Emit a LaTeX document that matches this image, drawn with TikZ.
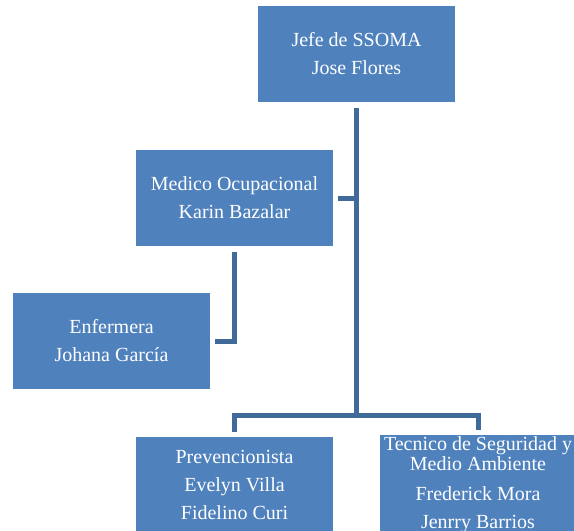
\documentclass[tikz,border=0pt]{standalone}
\usepackage{fontspec}
\setmainfont{Liberation Serif}
\definecolor{boxblue}{HTML}{4F81BD}
\definecolor{lineblue}{HTML}{3F6A9A}
\tikzset{
  cargo/.style={rectangle, fill=boxblue, text=white, minimum width=197pt, minimum height=96pt,
    inner sep=2pt, align=center, font=\fontsize{20}{28}\selectfont},
  conn/.style={draw=lineblue, line width=5pt, line join=miter}
}
\begin{document}
\begin{tikzpicture}[x=1pt, y=-1pt]
            \useasboundingbox (0,0) rectangle (574,531);
            % boxes
            \node[cargo] (jefe) at (356.5,54) {Jefe de SSOMA\\Jose Flores};
            \node[cargo] (medico) at (234.5,198) {Medico Ocupacional\\Karin Bazalar};
            \node[cargo] (enf) at (111.5,341) {Enfermera\\Johana García};
            \node[cargo] (prev) at (234.5,485) {Prevencionista\\Evelyn Villa\\Fidelino Curi};
            \node[cargo] (tec) at (478,485) {Tecnico de Seguridad y\\[-8pt]Medio Ambiente\\[2pt]Frederick Mora\\Jenrry Barrios};
            % connectors
            \coordinate (bus) at (356.5,415);
            \draw[conn] ([yshift=-6pt]jefe.south) -- (bus);
            \draw[conn] ([xshift=5pt]medico.east) -- (medico.east -| bus);
            \draw[conn] ([yshift=5pt]prev.north) |- (bus) -| ([yshift=5pt]tec.north);
            \draw[conn] ([yshift=-6pt]medico.south) |- ([xshift=5pt]enf.east);
\end{tikzpicture}
\end{document}
